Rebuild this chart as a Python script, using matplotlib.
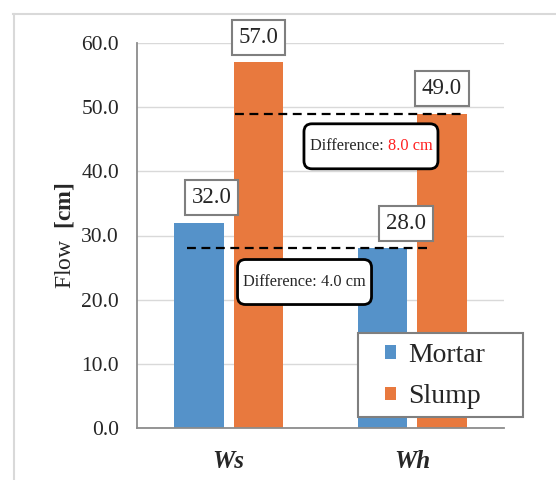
import numpy as np
import matplotlib.pyplot as plt
from matplotlib.lines import Line2D
from matplotlib.patches import Rectangle, FancyBboxPatch
from matplotlib.offsetbox import TextArea, HPacker, AnnotationBbox

plt.rcParams['font.family'] = ['Liberation Serif', 'DejaVu Serif']
plt.rcParams['mathtext.fontset'] = 'custom'
plt.rcParams['mathtext.rm'] = 'Liberation Serif'
plt.rcParams['mathtext.bf'] = 'Liberation Serif:bold'

# данные
groups = ['Ws', 'Wh']
mortar = [32.0, 28.0]
slump = [57.0, 49.0]
yticks = [0, 10, 20, 30, 40, 50, 60]

c_blue = '#5592c9'
c_orange = '#e8793e'
c_text = '#262626'

W, H = 556, 480
fig = plt.figure(figsize=(W / 100, H / 100), dpi=100)
ax = fig.add_axes([137 / W, 52 / H, 367 / W, 385 / H])

x = np.arange(len(groups))
w = 0.27
off = 0.162
ax.bar(x - off, mortar, w, color=c_blue, label='Mortar', zorder=2)
ax.bar(x + off, slump, w, color=c_orange, label='Slump', zorder=2)

ax.set_xlim(-0.5, 1.5)
ax.set_ylim(0, 60)
ax.set_yticks(yticks)
ax.set_yticklabels([f'{t:.1f}' for t in yticks], fontsize=15.5, color=c_text)
ax.set_xticks(x)
ax.set_xticklabels(groups, fontsize=18, fontweight='bold', fontstyle='italic', color=c_text)
ax.tick_params(axis='y', length=0, pad=13)
ax.tick_params(axis='x', length=0, pad=16)
ax.grid(axis='y', color='#d9d9d9', lw=1, zorder=0)
ax.set_axisbelow(True)
for s in ['top', 'right']:
    ax.spines[s].set_visible(False)
for s in ['left', 'bottom']:
    ax.spines[s].set_color('#8c8c8c')
    ax.spines[s].set_linewidth(1.3)

ax.set_ylabel(r'Flow  $\mathbf{[cm]}$', fontsize=17, color=c_text)
ax.yaxis.set_label_coords(-0.165, 0.5)

# подписи значений
box = dict(boxstyle='square,pad=0.3', fc='white', ec='#7f7f7f', lw=1.5)
dx_mortar = [9, 17]
dx_slump = [0, 0]
for i in range(len(groups)):
    for vals, xs, dx in [(mortar, x - off, dx_mortar), (slump, x + off, dx_slump)]:
        ax.annotate(f'{vals[i]:.1f}', xy=(xs[i], vals[i]), xytext=(dx[i], 18),
                    textcoords='offset points', ha='center', va='center',
                    fontsize=16.5, color=c_text, bbox=box, zorder=5)

# пунктирные линии разницы
dash = (0, (4, 2.5))
ax.hlines(mortar[1], -0.228, 1.108, colors='black', linestyles=dash, lw=1.6, zorder=4)
ax.hlines(slump[1], 0.034, 1.287, colors='black', linestyles=dash, lw=1.6, zorder=4)

# масштаб осей: пикселей на единицу
px_x = 367 / 2.0
px_y = 385 / 60.0

def diff_box(cx, cy, val, col):
    bw, bh = 134 / px_x, 45 / px_y
    r = 8 / px_x
    p = FancyBboxPatch((cx - bw / 2, cy - bh / 2), bw, bh,
                       boxstyle=f'round,pad=0,rounding_size={r}',
                       mutation_aspect=px_x / px_y,
                       fc='white', ec='black', lw=2, zorder=6)
    ax.add_patch(p)
    t1 = TextArea('Difference: ', textprops=dict(fontsize=11.8, color=c_text))
    t2 = TextArea(f'{val:.1f} cm', textprops=dict(fontsize=11.8, color=col))
    pk = HPacker(children=[t1, t2], pad=0, sep=0, align='baseline')
    ab = AnnotationBbox(pk, (cx, cy), frameon=False, pad=0, zorder=7)
    ax.add_artist(ab)

diff_box(0.775, 43.9, slump[0] - slump[1], '#ff2020')
diff_box(0.413, 22.75, mortar[0] - mortar[1], c_text)

# легенда
fig.add_artist(Rectangle((358 / W, 1 - 417 / H), 165 / W, 84 / H, transform=fig.transFigure,
                         fc='white', ec='#7f7f7f', lw=1.5, zorder=8))
leg = ax.legend(loc='center left', bbox_to_anchor=(385 / W, 1 - 376 / H),
                bbox_transform=fig.transFigure, fontsize=20, frameon=False,
                handlelength=0.38, handleheight=0.38, handletextpad=0.45,
                borderpad=0, labelspacing=0.6, borderaxespad=0)
for t in leg.get_texts():
    t.set_color(c_text)
leg.set_zorder(9)
fig.add_artist(leg)

# рамка области диаграммы
fig.add_artist(Line2D([13.5 / W, 13.5 / W], [0, 1 - 14 / H], color='#d9d9d9', lw=1.5))
fig.add_artist(Line2D([13 / W, 1], [1 - 14 / H, 1 - 14 / H], color='#d9d9d9', lw=1.5))

fig.savefig('out.png', dpi=100)
